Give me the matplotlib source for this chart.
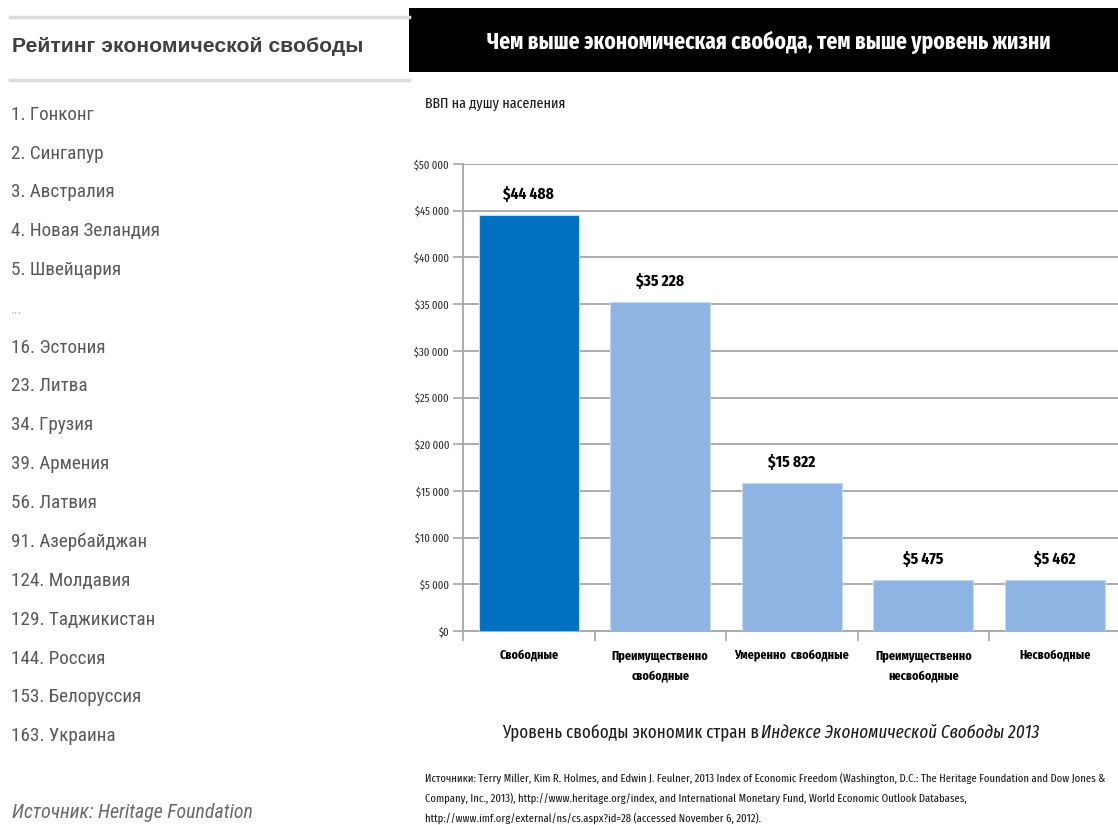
import matplotlib
matplotlib.use("Agg")
import matplotlib.pyplot as plt
from matplotlib.patches import Rectangle
from matplotlib import font_manager

# ------------------------------------------------
# Данные
# ------------------------------------------------
categories = ["Свободные", "Преимущественно\nсвободные", "Умеренно  свободные",
              "Преимущественно\nнесвободные", "Несвободные"]
gdp = [44488, 35228, 15822, 5475, 5462]
value_labels = ["$44 488", "$35 228", "$15 822", "$5 475", "$5 462"]
bar_colors = ["#0070C0", "#8EB4E3", "#8EB4E3", "#8EB4E3", "#8EB4E3"]

rank_list = ["1. Гонконг", "2. Сингапур", "3. Австралия", "4. Новая Зеландия",
             "5. Швейцария", "...", "16. Эстония", "23. Литва", "34. Грузия",
             "39. Армения", "56. Латвия", "91. Азербайджан", "124. Молдавия",
             "129. Таджикистан", "144. Россия", "153. Белоруссия", "163. Украина"]
rank_y = [115, 154, 192, 231, 270, 310, 348, 386, 425, 464, 503, 542, 581,
          620, 659, 697, 736]

y_ticks = list(range(0, 50001, 5000))

# ------------------------------------------------
# Шрифты
# ------------------------------------------------
names = {f.name for f in font_manager.fontManager.ttflist}


def pick(cands):
    for c in cands:
        if c in names:
            return [c, "DejaVu Sans"]
    return ["DejaVu Sans"]


NARROW = pick(["Roboto Condensed", "PT Sans Narrow", "Fira Sans Condensed", "Liberation Sans Narrow"])
TALL = pick(["Fira Sans Extra Condensed", "Oswald", "PT Sans Narrow", "Roboto Condensed"])
ARIAL = pick(["Liberation Sans", "Arimo"])

W, H = 1118, 825
fig = plt.figure(figsize=(W / 100, H / 100), dpi=100)
fig.patch.set_facecolor("white")
renderer = fig.canvas.get_renderer()


def fx(px):
    return px / W


def fy(py):
    return 1 - py / H


def fit(texts, ref, target_w):
    # подгоняем кегль так, чтобы ref занял target_w пикселей
    w = ref.get_window_extent(renderer).width
    k = target_w / w
    for t in texts:
        t.set_fontsize(t.get_fontsize() * k)


# ------------------------------------------------
# Левая панель – рейтинг
# ------------------------------------------------
for ly in (17, 80):
    fig.add_artist(plt.Line2D([fx(10), fx(409)], [fy(ly), fy(ly)], color="#dcdcdc", lw=2.5))
t = fig.text(fx(12), fy(47), "Рейтинг экономической свободы", family=ARIAL, weight="bold",
             fontsize=14, color="#404040", va="center", ha="left")
fit([t], t, 351)

rank_texts = []
for label, yy in zip(rank_list, rank_y):
    if label == "...":
        fig.text(fx(11), fy(yy), label, family=ARIAL, fontsize=10, color="#bdbdbd",
                 va="center", ha="left")
        continue
    rank_texts.append(fig.text(fx(11), fy(yy), label, family=NARROW, fontsize=12,
                               color="#595959", va="center", ha="left"))
fit(rank_texts, rank_texts[3], 149)

t = fig.text(fx(12), fy(812), "Источник: Heritage Foundation", family=NARROW, style="italic",
             fontsize=12, color="#6a6a6a", va="center", ha="left")
fit([t], t, 240)

# ------------------------------------------------
# Правая панель – заголовок
# ------------------------------------------------
fig.add_artist(Rectangle((fx(409), fy(72)), fx(W - 409), (72 - 8) / H,
                         transform=fig.transFigure, facecolor="black", edgecolor="none"))
t = fig.text(fx(768.5), fy(42), "Чем выше экономическая свобода, тем выше уровень жизни",
             family=TALL, weight="bold", fontsize=18, color="white", ha="center", va="center")
fit([t], t, 563)
t = fig.text(fx(425), fy(104), "ВВП на душу населения", family=TALL,
             fontsize=10, color="#1a1a1a", ha="left", va="center")
fit([t], t, 140)

# ------------------------------------------------
# Столбчатая диаграмма
# ------------------------------------------------
x0, x1, y0, y1 = 463, 463 + 5 * 131.5, 631, 164
ax = fig.add_axes([fx(x0), fy(y0), (x1 - x0) / W, (y0 - y1) / H])
x = list(range(len(gdp)))
ax.bar(x, gdp, width=0.76, color=bar_colors, edgecolor="#c5d9f1", linewidth=0.8, zorder=3)
ax.set_xlim(-0.5, 4.5)
ax.set_ylim(0, 50000)
ax.set_yticks(y_ticks)
ax.set_yticklabels(["$0" if v == 0 else "$" + f"{v:,}".replace(",", " ") for v in y_ticks],
                   family=TALL, fontsize=8, color="#2a2a2a")
ax.grid(axis="y", color="#a6a6a6", lw=1.3, zorder=0)
ax.set_xticks([i - 0.5 for i in range(6)])
ax.set_xticklabels([])
ax.tick_params(axis="both", color="#a6a6a6", length=7, width=1.2, direction="out")
ax.tick_params(axis="y", pad=3)
for side in ("top", "right"):
    ax.spines[side].set_visible(False)
for side in ("left", "bottom"):
    ax.spines[side].set_color("#a6a6a6")
    ax.spines[side].set_linewidth(1.3)
fig.canvas.draw()
ylabs = ax.get_yticklabels()
fit(ylabs, ylabs[-1], 35)

val_texts = []
for i, (v, lab) in enumerate(zip(gdp, value_labels)):
    val_texts.append(ax.annotate(lab, xy=(i, v), xytext=(0, 21), textcoords="offset pixels",
                                 ha="center", va="center", family=TALL, weight="bold",
                                 fontsize=14, color="black"))
fit(val_texts, val_texts[0], 51)

cat_texts = []
for i, cat in enumerate(categories):
    cat_texts.append(ax.annotate(cat, xy=(i, 0), xytext=(0, -19), textcoords="offset pixels",
                                 ha="center", va="top", family=TALL, weight="bold",
                                 fontsize=9.5, linespacing=1.85, color="black"))
fit(cat_texts, cat_texts[2], 115)

# ------------------------------------------------
# Подпись и источник
# ------------------------------------------------
t1 = fig.text(fx(502), fy(733), "Уровень свободы экономик стран в", family=TALL,
              fontsize=14, color="#1a1a1a", ha="left", va="center")
fit([t1], t1, 254)
t2 = fig.text(fx(761), fy(733), "Индексе Экономической Свободы 2013", family=TALL,
              fontsize=t1.get_fontsize(), style="italic", color="#1a1a1a",
              ha="left", va="center")
fit([t2], t2, 279)

src = ["Источники: Terry Miller, Kim R. Holmes, and Edwin J. Feulner, 2013 Index of Economic Freedom "
       "(Washington, D.C.: The Heritage Foundation and Dow Jones &",
       "Company, Inc., 2013), http://www.heritage.org/index, and International Monetary Fund, "
       "World Economic Outlook Databases,",
       "http://www.imf.org/external/ns/cs.aspx?id=28 (accessed November 6, 2012)."]
src_texts = []
for line, yy in zip(src, (778, 798, 818)):
    src_texts.append(fig.text(fx(425), fy(yy), line, family=TALL, fontsize=7,
                              color="#1a1a1a", ha="left", va="center"))
fit(src_texts, src_texts[0], 678)

fig.savefig("out.png", dpi=100)
